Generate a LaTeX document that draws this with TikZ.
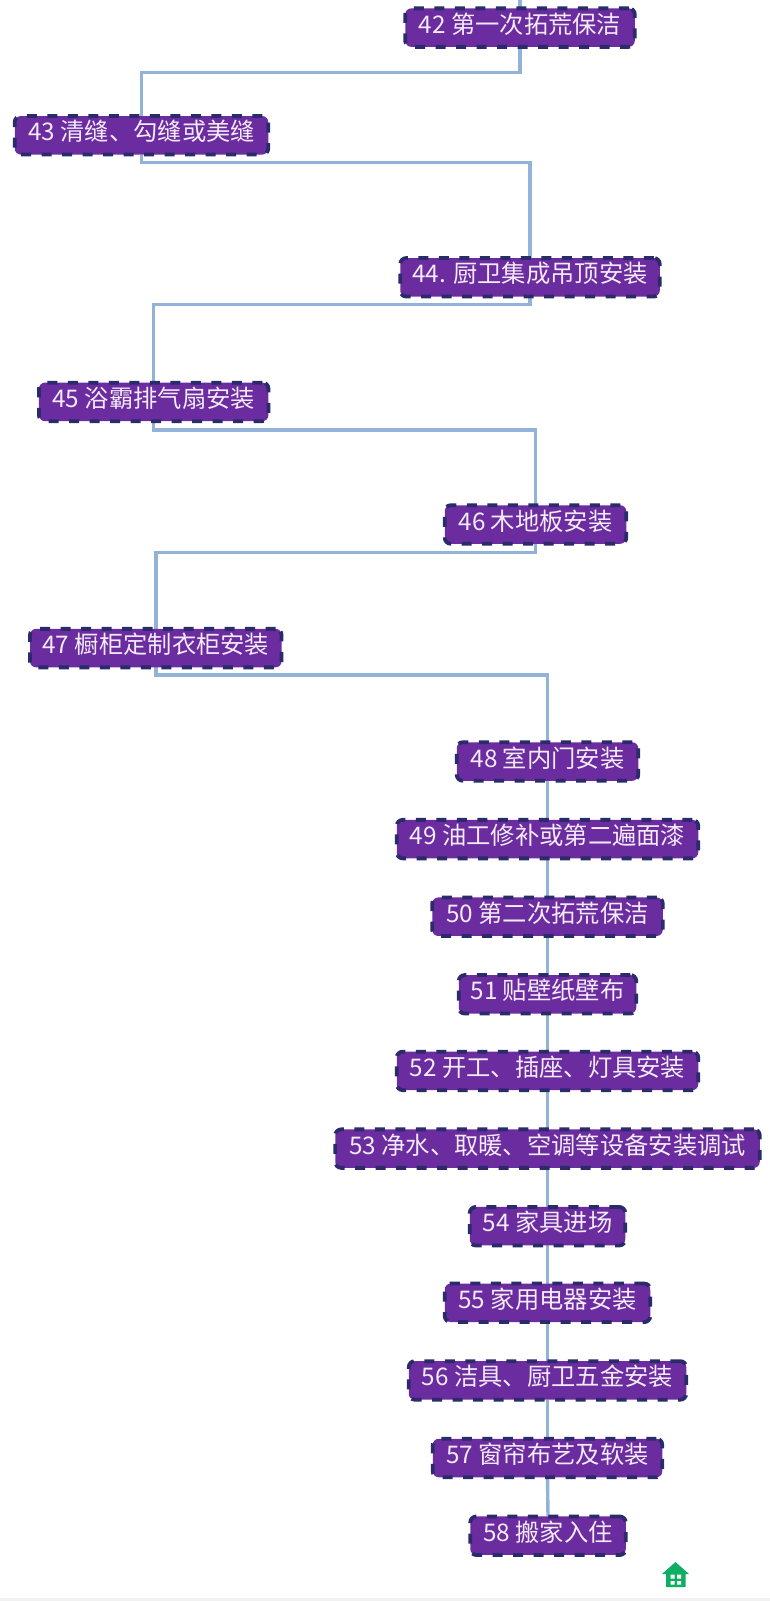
\documentclass[tikz,border=0pt]{standalone}
\usepackage{fontspec}
\setmainfont{Noto Sans CJK SC}
\usetikzlibrary{backgrounds}
\definecolor{boxfill}{HTML}{6A2C9E}
\definecolor{boxedge}{HTML}{2B2A6B}
\definecolor{wire}{HTML}{92B2D8}
\definecolor{boxtext}{HTML}{F3EAF8}
\definecolor{houseg}{HTML}{0FAE63}
\definecolor{strip}{HTML}{F1F1F1}
\tikzset{
  x=1pt,y=-1pt,
  stepbox/.style={draw=boxedge,fill=boxfill,text=boxtext,line width=3.8pt,
    dash pattern=on 10pt off 10.5pt,rounded corners=6pt,minimum height=38.5pt,
    inner sep=0pt,outer sep=0pt,text height=17pt,text depth=6pt,font=\fontsize{24.3}{28}\selectfont},
  wireline/.style={draw=wire,line width=3.4pt}
}
\begin{document}
\begin{tikzpicture}
\useasboundingbox (0,0) rectangle (770,1601);
\fill[strip] (0,1598) rectangle (770,1601);
\node[stepbox,minimum width=229.5pt] (n42) at (520,27.6) {42 第一次拓荒保洁};
\node[stepbox,minimum width=253.5pt] (n43) at (141.5,135.3) {43 清缝、勾缝或美缝};
\node[stepbox,minimum width=259.5pt] (n44) at (530,277.3) {44. 厨卫集成吊顶安装};
\node[stepbox,minimum width=229.5pt] (n45) at (153.7,401.9) {45 浴霸排气扇安装};
\node[stepbox,minimum width=181.5pt] (n46) at (535.5,524.5) {46 木地板安装};
\node[stepbox,minimum width=251.5pt] (n47) at (155.8,648.1) {47 橱柜定制衣柜安装};
\node[stepbox,minimum width=181.5pt] (n48) at (547.5,761.5) {48 室内门安装};
\node[stepbox,minimum width=301.5pt] (n49) at (547.5,839.1) {49 油工修补或第二遍面漆};
\node[stepbox,minimum width=230.5pt] (n50) at (547.5,916.7) {50 第二次拓荒保洁};
\node[stepbox,minimum width=177.5pt] (n51) at (547.5,994.3) {51 贴壁纸壁布};
\node[stepbox,minimum width=301.5pt] (n52) at (547.5,1070.9) {52 开工、插座、灯具安装};
\node[stepbox,minimum width=424.5pt] (n53) at (547.5,1148.6) {53 净水、取暖、空调等设备安装调试};
\node[stepbox,minimum width=155.5pt] (n54) at (547.5,1226.2) {54 家具进场};
\node[stepbox,minimum width=205.5pt] (n55) at (547.5,1302.8) {55 家用电器安装};
\node[stepbox,minimum width=277.5pt] (n56) at (547.5,1380.4) {56 洁具、厨卫五金安装};
\node[stepbox,minimum width=229.5pt] (n57) at (547.5,1458) {57 窗帘布艺及软装};
\node[stepbox,minimum width=155.5pt] (n58) at (548,1535.7) {58 搬家入住};
\coordinate (top) at (n42.north |- 0,0);
\begin{scope}[on background layer]
\draw[wireline] (top) -- (n42.south);
\draw[wireline] (n42.south) -- (n42.south |- 0,72.5) -- (n43.north |- 0,72.5) -- (n43.north);
\draw[wireline] (n43.south) -- (n43.south |- 0,162.4) -- (n44.north |- 0,162.4) -- (n44.north);
\draw[wireline] (n44.south) -- (n44.south |- 0,304.4) -- (n45.north |- 0,304.4) -- (n45.north);
\draw[wireline] (n45.south) -- (n45.south |- 0,430) -- (n46.north |- 0,430) -- (n46.north);
\draw[wireline] (n46.south) -- (n46.south |- 0,552.6) -- (n47.north |- 0,552.6) -- (n47.north);
\draw[wireline] (n47.south) -- (n47.south |- 0,675.1) -- (n48.north |- 0,675.1) -- (n48.north);
\foreach \a/\b in {48/49,49/50,50/51,51/52,52/53,53/54,54/55,55/56,56/57,57/58}
  \draw[wireline] (n\a.south) -- (n\b.north);
\end{scope}
% house icon
\fill[houseg] (675.5,1562) -- (689,1574) -- (685.5,1574) -- (685.5,1587) -- (666,1587) -- (666,1574) -- (662,1574) -- cycle;
\fill[white] (670.5,1574.5) rectangle (674.5,1578.5) (677,1574.5) rectangle (681,1578.5)
             (670.5,1581) rectangle (674.5,1584.5) (677,1581) rectangle (681,1584.5);
\end{tikzpicture}
\end{document}
